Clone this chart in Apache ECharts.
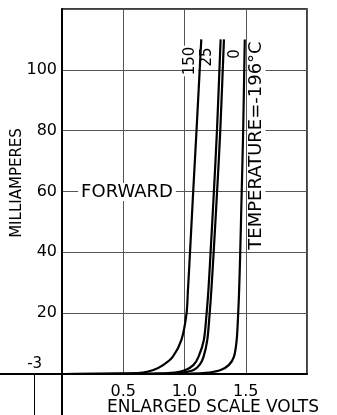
<!DOCTYPE html>
<html>
<head>
<meta charset="utf-8">
<script src="https://cdn.jsdelivr.net/npm/echarts@6/dist/echarts.min.js"></script>
<style>
  html, body { margin: 0; padding: 0; background: #fff; }
  #chart { width: 337px; height: 415px; }
</style>
</head>
<body>
<div id="chart"></div>
<script>
const FONT = '"DejaVu Sans", sans-serif';

// Forward current (mA) at which every curve is sampled
const currentMA = [0, 0.1, 0.5, 1.3, 3, 5.7, 11.2, 19.7, 27.5, 40, 60, 80, 110];

// Forward voltage (V) at those currents, one array per junction temperature
const volts150   = [0, 0.45, 0.66, 0.746, 0.828, 0.905, 0.975, 1.016, 1.028, 1.045, 1.071, 1.098, 1.137];
const volts25    = [0, 0.75, 0.92, 1.008, 1.074, 1.115, 1.158, 1.180, 1.195, 1.213, 1.240, 1.265, 1.295];
const volts0     = [0, 0.85, 0.99, 1.074, 1.123, 1.156, 1.186, 1.205, 1.219, 1.238, 1.266, 1.292, 1.322];
const voltsM196  = [0, 1.05, 1.20, 1.295, 1.363, 1.404, 1.426, 1.438, 1.446, 1.455, 1.467, 1.479, 1.492];

const curveNames = ['150', '25', '0', 'TEMPERATURE=-196°C'];
const curveVolts = [volts150, volts25, volts0, voltsM196];

// Axis ticks
const xTickValues = [0.5, 1.0, 1.5];
const xTickLabels = ['0.5', '1.0', '1.5'];
const yTickValues = [20, 40, 60, 80, 100];
const yTickLabels = ['20', '40', '60', '80', '100'];
const reverseTickValues = [-3];
const reverseTickLabels = ['-3'];

const regionLabel = 'FORWARD';
const xAxisName = 'ENLARGED SCALE VOLTS';
const yAxisName = 'MILLIAMPERES';

function pick(values, labels) {
  return function (v) {
    const i = values.findIndex(t => Math.abs(t - v) < 1e-9);
    return i < 0 ? '' : labels[i];
  };
}

const chart = echarts.init(document.getElementById('chart'), null, { renderer: 'canvas' });

const series = curveVolts.map((volts, k) => ({
  name: curveNames[k],
  type: 'line',
  xAxisIndex: 0,
  yAxisIndex: 0,
  data: currentMA.map((c, i) => [volts[i], c]),
  symbol: 'none',
  smooth: 0.3,
  lineStyle: { color: '#000', width: 2.2 },
  z: 5
}));

// Curve tags and the region caption, placed in pixel space.
// They sit above the grid lines (masking them) but below the curves.
function tag(text, x, y, size, rotated) {
  return {
    type: 'text',
    x: x, y: y,
    rotation: rotated ? Math.PI / 2 : 0,
    z: 3,
    style: {
      text: text,
      font: size + 'px ' + FONT,
      lineHeight: Math.round(size * 0.9),
      fill: '#000',
      align: 'center',
      verticalAlign: 'middle',
      backgroundColor: '#fff',
      padding: rotated ? [2, 1, 0, 1] : [1, 3, 1, 3]
    }
  };
}

const option = {
  animation: false,
  backgroundColor: '#fff',
  textStyle: { fontFamily: FONT, color: '#000' },
  grid: [
    { left: 62, top: 9, width: 245, height: 365, outerBoundsMode: 'none', containLabel: false,
      show: true, borderColor: '#000', borderWidth: 1.5, backgroundColor: 'transparent' },
    { left: 0, top: 374, width: 62, height: 41, outerBoundsMode: 'none', containLabel: false }
  ],
  xAxis: [
    {
      gridIndex: 0, type: 'value', min: 0, max: 2, interval: 0.5,
      axisLine: { show: true, lineStyle: { color: '#000', width: 2 } },
      axisTick: { show: false },
      axisLabel: { formatter: pick(xTickValues, xTickLabels), color: '#000', fontSize: 16, fontFamily: FONT, margin: 10 },
      splitLine: { show: true, lineStyle: { color: '#555', width: 1 } },
      name: xAxisName, nameLocation: 'middle', nameGap: 25, nameMoveOverlap: false,
      nameTextStyle: { color: '#000', fontSize: 17, fontFamily: FONT, padding: [0, 0, 0, 57] }
    },
    {
      gridIndex: 1, type: 'value', position: 'top', min: -6.8, max: 0,
      axisLine: { show: true, onZero: false, lineStyle: { color: '#000', width: 2 } },
      axisTick: { show: true, inside: true, length: 41, customValues: reverseTickValues, lineStyle: { color: '#000', width: 1 } },
      axisLabel: { show: true, customValues: reverseTickValues, formatter: pick(reverseTickValues, reverseTickLabels), color: '#000', fontSize: 15, fontFamily: FONT, margin: 2 },
      splitLine: { show: false }
    }
  ],
  yAxis: [
    {
      gridIndex: 0, type: 'value', min: 0, max: 120, interval: 20,
      axisLine: { show: true, lineStyle: { color: '#000', width: 2 } },
      axisTick: { show: false },
      axisLabel: { formatter: pick(yTickValues, yTickLabels), color: '#000', fontSize: 16, fontFamily: FONT, margin: 5 },
      splitLine: { show: true, lineStyle: { color: '#555', width: 1 } },
      name: yAxisName, nameLocation: 'middle', nameGap: 37, nameRotate: 90, nameMoveOverlap: false,
      nameTextStyle: { color: '#000', fontSize: 15, fontFamily: FONT, padding: [0, 0, 0, 17] }
    },
    {
      gridIndex: 1, type: 'value', position: 'right', min: 0, max: 1,
      axisLine: { show: true, onZero: false, lineStyle: { color: '#000', width: 2 } },
      axisTick: { show: false },
      axisLabel: { show: false },
      splitLine: { show: false }
    }
  ],
  series: series,
  graphic: [
    tag(regionLabel, 127, 192, 18, false),
    tag(curveNames[0], 190, 61, 15, true),
    tag(curveNames[1], 207.5, 57, 15, true),
    tag(curveNames[2], 235, 54, 15, true),
    tag(curveNames[3], 256.5, 145.5, 18, true)
  ]
};

chart.setOption(option);
</script>
</body>
</html>
